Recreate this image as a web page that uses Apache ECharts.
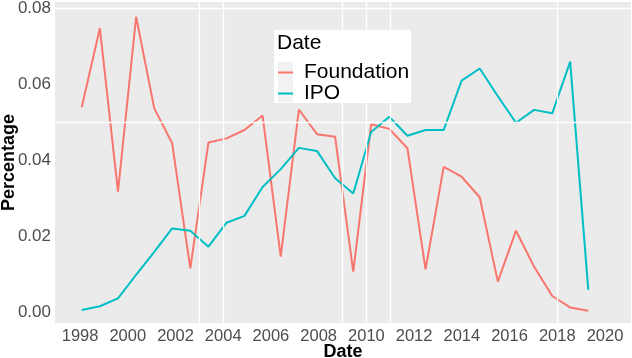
<!DOCTYPE html>
<html>
<head>
<meta charset="utf-8">
<title>Foundation vs IPO</title>
<script src="https://cdn.jsdelivr.net/npm/echarts@6/dist/echarts.min.js"></script>
<style>
	html, body {margin: 0; padding: 0; background: #fff;}
	#chart {width: 632px; height: 358px;}
</style>
</head>
<body>
<div id="chart"></div>
<script>
//数据
var dates = [1998.07, 1998.83, 1999.59, 2000.35, 2001.11, 2001.86, 2002.62, 2003.38, 2004.14, 2004.89,
	2005.65, 2006.41, 2007.17, 2007.93, 2008.69, 2009.45, 2010.20, 2010.96, 2011.72, 2012.48,
	2013.24, 2013.99, 2014.75, 2015.51, 2016.27, 2017.03, 2017.79, 2018.54, 2019.30];
var foundation = [0.0539, 0.0747, 0.0317, 0.0777, 0.0536, 0.0444, 0.0115, 0.0446, 0.0457, 0.0479,
	0.0517, 0.0146, 0.0533, 0.0468, 0.0461, 0.0106, 0.0494, 0.0482, 0.0431, 0.0112,
	0.0382, 0.0356, 0.0302, 0.0080, 0.0214, 0.0119, 0.0042, 0.0012, 0.0003];
var ipo = [0.0005, 0.0015, 0.0036, 0.0098, 0.0158, 0.0220, 0.0214, 0.0172, 0.0235, 0.0253,
	0.0329, 0.0376, 0.0432, 0.0424, 0.0352, 0.0312, 0.0474, 0.0514, 0.0464, 0.0479,
	0.0479, 0.0609, 0.0641, 0.0568, 0.0498, 0.0532, 0.0523, 0.0659, 0.0058];
var xTicks = [1998, 2000, 2002, 2004, 2006, 2008, 2010, 2012, 2014, 2016, 2018, 2020];
var yTicks = [0, 0.02, 0.04, 0.06, 0.08];
//背景里零散的白色网格线
var gridX = [2003, 2004, 2009, 2010, 2011, 2018];
var gridY = [0.0505, 0.0805];

function pairs(xs, ys) {
	var out = [];
	for(var i = 0; i < xs.length; i++) {
		out.push([xs[i], ys[i]]);
	}
	return out;
}

var font = 'Liberation Sans, Arial, sans-serif';
var marks = [];
for(var i = 0; i < gridX.length; i++) {
	marks.push({xAxis: gridX[i]});
}
for(var j = 0; j < gridY.length; j++) {
	marks.push({yAxis: gridY[j]});
}

var option = {
	animation: false,
	textStyle: {fontFamily: font},
	grid: {
		left: 55, right: 1, top: 2, bottom: 35,
		outerBoundsMode: 'none', containLabel: false,
		show: true, backgroundColor: '#EBEBEB', borderWidth: 0
	},
	graphic: [{
		type: 'rect',
		shape: {x: 274, y: 30, width: 137, height: 73},
		style: {fill: '#fff'},
		z: 10
	}, {
		type: 'rect',
		shape: {x: 278, y: 62, width: 15, height: 40},
		style: {fill: '#F2F2F2'},
		z: 11
	}, {
		type: 'text',
		left: 277,
		top: 33,
		style: {text: 'Date', fontSize: 21, fontFamily: font, fill: '#000'},
		z: 11
	}],
	legend: {
		data: [{name: 'Foundation', icon: 'rect'}, {name: 'IPO', icon: 'rect'}],
		orient: 'vertical',
		left: 278,
		top: 62,
		padding: 0,
		itemWidth: 15,
		itemHeight: 2,
		itemGap: 0,
		z: 12,
		textStyle: {fontSize: 21, lineHeight: 20, height: 20, color: '#000', fontFamily: font, padding: [0, 0, 0, 6]}
	},
	xAxis: {
		type: 'value',
		min: 1996.95,
		max: 2021.09,
		name: 'Date',
		nameLocation: 'middle',
		nameGap: 20,
		nameMoveOverlap: false,
		nameTextStyle: {fontSize: 18, fontWeight: 'bold', color: '#000', fontFamily: font},
		axisLine: {show: false},
		splitLine: {show: false},
		axisTick: {show: false},
		axisLabel: {
			fontSize: 16.5, color: '#4D4D4D', margin: 5, customValues: xTicks, fontFamily: font,
			formatter: function(v) { return String(v) }
		}
	},
	yAxis: {
		type: 'value',
		min: -0.0029,
		max: 0.0816,
		name: 'Percentage',
		nameLocation: 'middle',
		nameGap: 37,
		nameMoveOverlap: false,
		nameTextStyle: {fontSize: 18, fontWeight: 'bold', color: '#000', fontFamily: font},
		axisLine: {show: false},
		splitLine: {show: false},
		axisTick: {show: false},
		axisLabel: {
			fontSize: 17, color: '#4D4D4D', margin: 4, customValues: yTicks, fontFamily: font,
			formatter: function(v) { return v.toFixed(2) }
		}
	},
	series: [{
		name: 'grid',
		type: 'line',
		data: [],
		z: 1,
		silent: true,
		markLine: {
			silent: true,
			symbol: 'none',
			label: {show: false},
			lineStyle: {color: '#fff', width: 1.3, type: 'solid'},
			data: marks
		}
	}, {
		name: 'Foundation',
		type: 'line',
		data: pairs(dates, foundation),
		symbol: 'none',
		lineStyle: {color: '#F8766D', width: 2},
		itemStyle: {color: '#F8766D'}
	}, {
		name: 'IPO',
		type: 'line',
		data: pairs(dates, ipo),
		symbol: 'none',
		lineStyle: {color: '#00BFC4', width: 2},
		itemStyle: {color: '#00BFC4'}
	}]
};

var myChart = echarts.init(document.getElementById('chart'));
myChart.setOption(option);
</script>
</body>
</html>
